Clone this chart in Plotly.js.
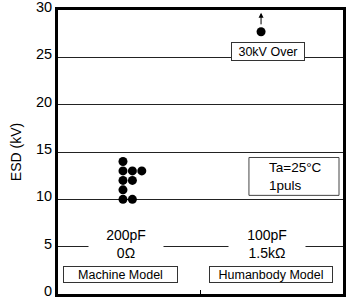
<!DOCTYPE html>
<html><head><meta charset="utf-8">
<script src="https://cdn.plot.ly/plotly-3.0.1.min.js"></script>
<style>html,body{margin:0;padding:0;background:#fff}#chart{width:350px;height:300px}</style>
</head><body><div id="chart"></div>
<script>
// Data
const models = ["Machine Model", "Humanbody Model"];
const conditions = ["200pF<br>0Ω", "100pF<br>1.5kΩ"];
const mmValues = [14, 13, 12, 11, 10, 13, 12, 10, 13];   // kV
const mmColumn = [0, 0, 0, 0, 0, 1, 1, 1, 2];
const hbmValues = [27.7];                                // plotted beyond 30kV marker
const hbmColumn = [0];
const yTicks = [0, 5, 10, 15, 20, 25, 30];

// layout helpers (positions in x data units; x range 0..2)
const mmBase = 0.456, hbmBase = 1.425, colStep = 0.066;
const font = "Liberation Sans, Arial, sans-serif";

const traces = [
  {x: mmColumn.map(c => mmBase + c * colStep), y: mmValues, type: "scatter", mode: "markers",
   marker: {color: "#000", size: 9}, hoverinfo: "skip"},
  {x: hbmColumn.map(c => hbmBase + c * colStep), y: hbmValues, type: "scatter", mode: "markers",
   marker: {color: "#000", size: 9}, hoverinfo: "skip"}
];

const annotations = [
  {x: 0.48, y: 5.25, xref: "x", yref: "y", text: conditions[0], showarrow: false,
   font: {family: font, size: 14, color: "#000"}, bgcolor: "#fff", width: 72, align: "center"},
  {x: 1.47, y: 5.25, xref: "x", yref: "y", text: conditions[1], showarrow: false,
   font: {family: font, size: 14, color: "#000"}, bgcolor: "#fff", width: 74, align: "center"},
  {x: 0.44, y: 2.05, xref: "x", yref: "y", text: models[0], showarrow: false,
   font: {family: font, size: 12.5, color: "#000"}, bgcolor: "#fff", bordercolor: "#333",
   borderwidth: 1, borderpad: 0, width: 113, height: 15},
  {x: 1.495, y: 2.05, xref: "x", yref: "y", text: models[1], showarrow: false,
   font: {family: font, size: 12.5, color: "#000"}, bgcolor: "#fff", bordercolor: "#333",
   borderwidth: 1, borderpad: 0, width: 122, height: 15},
  {x: 1.474, y: 25.6, xref: "x", yref: "y", text: "30kV Over", showarrow: false,
   font: {family: font, size: 12.5, color: "#000"}, bgcolor: "#fff", bordercolor: "#333",
   borderwidth: 1, borderpad: 0, width: 72, height: 17},
  {x: hbmBase, y: 29.7, xref: "x", yref: "y", text: "", showarrow: true,
   ax: 0, ay: 13, arrowhead: 2, arrowsize: 1, arrowwidth: 1, arrowcolor: "#000"},
  {x: 1.467, y: 12.45, xref: "x", yref: "y", xanchor: "left", text: "Ta=25°C<br>1puls",
   showarrow: false, align: "left", font: {family: font, size: 13.5, color: "#000"}}
];

const shapes = [
  {type: "rect", xref: "x", yref: "y", x0: 1.34, x1: 1.972, y0: 10.42, y1: 14.42,
   line: {color: "#444", width: 1}, fillcolor: "#fff", layer: "above"}
];

const layout = {
  width: 350, height: 300,
  margin: {l: 58, r: 7, t: 10, b: 6},
  paper_bgcolor: "#fff", plot_bgcolor: "#fff",
  showlegend: false,
  font: {family: font, color: "#000"},
  xaxis: {range: [0, 2], tickvals: [1], ticks: "inside", ticklen: 4, tickcolor: "#000",
          showticklabels: false, showgrid: false, zeroline: false,
          showline: true, linecolor: "#000", linewidth: 3, mirror: true, fixedrange: true},
  yaxis: {range: [0, 30], tickvals: yTicks, ticks: "", showgrid: true, gridcolor: "#222",
          gridwidth: 1, zeroline: false, showline: true, linecolor: "#000", linewidth: 3,
          mirror: true, ticklabeloverflow: "allow", ticklabelshift: -3,
          tickfont: {family: font, size: 14.5, color: "#000"},
          title: {text: "ESD (kV)", font: {family: font, size: 14, color: "#000"}, standoff: 12},
          fixedrange: true},
  annotations: annotations,
  shapes: shapes
};

Plotly.newPlot("chart", traces, layout, {staticPlot: true, displayModeBar: false});
</script></body></html>
